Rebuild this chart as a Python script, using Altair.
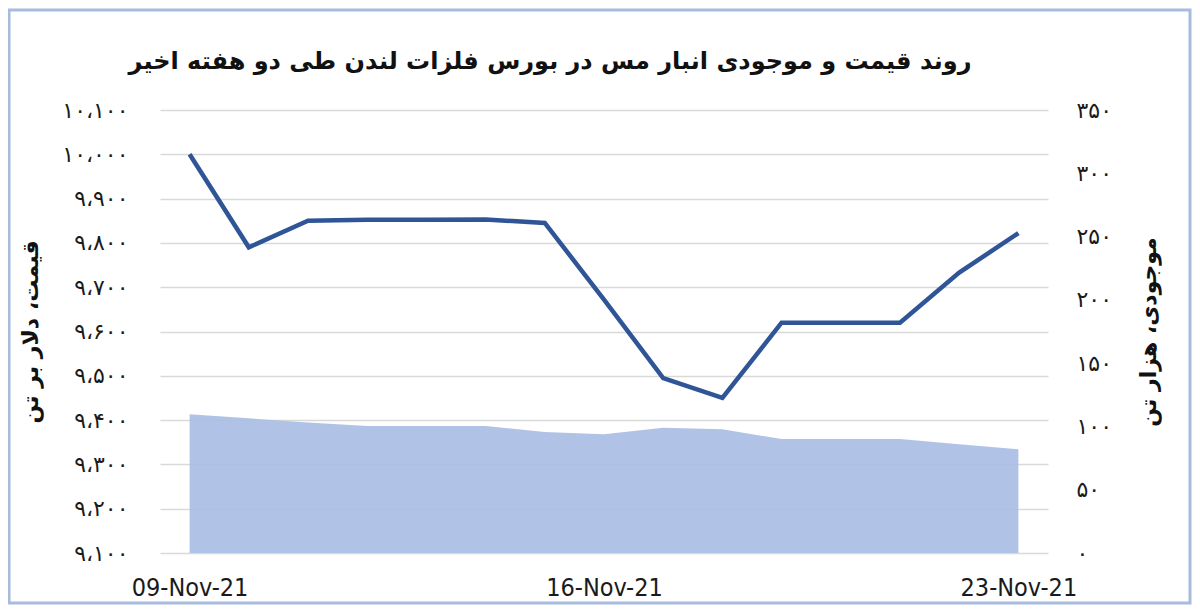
import json
import altair as alt
import pandas as pd

# ---- data ----
days = [9, 10, 11, 12, 13, 14, 15, 16, 17, 18, 19, 20, 21, 22, 23]
price = [10000, 9790, 9850, 9852, 9852, 9853, 9845, 9672, 9495, 9450, 9620, 9620, 9620, 9733, 9822]
stock = [109.6, 106.4, 103.2, 100.3, 100.3, 100.3, 95.5, 93.8, 99.0, 97.7, 90.0, 90.0, 90.0, 86.0, 82.0]

date_ticks = [9, 16, 23]
date_labels = ["09-Nov-21", "16-Nov-21", "23-Nov-21"]

price_ticks = [9100, 9200, 9300, 9400, 9500, 9600, 9700, 9800, 9900, 10000, 10100]
price_labels = ["۹،۱۰۰", "۹،۲۰۰", "۹،۳۰۰", "۹،۴۰۰", "۹،۵۰۰", "۹،۶۰۰",
                "۹،۷۰۰", "۹،۸۰۰", "۹،۹۰۰", "۱۰،۰۰۰", "۱۰،۱۰۰"]

stock_ticks = [0, 50, 100, 150, 200, 250, 300, 350]
stock_labels = ["۰", "۵۰", "۱۰۰", "۱۵۰", "۲۰۰", "۲۵۰", "۳۰۰", "۳۵۰"]

title_text = "روند قیمت و موجودی انبار مس در بورس فلزات لندن طی دو هفته اخیر"
left_title = "قیمت، دلار بر تن"
right_title = "موجودی، هزار تن"

df = pd.DataFrame({"day": days, "price": price, "stock": stock})


def lookup_expr(ticks, labels):
    return f"{json.dumps(labels, ensure_ascii=False)}[indexof({json.dumps(ticks)}, datum.value)]"


W, H = 888, 443
PAD = {"left": 152, "top": 102, "right": 144, "bottom": 52}

FA_FONT = "DejaVu Sans"
LAT_FONT = "Liberation Sans Narrow, DejaVu Sans Condensed, sans-serif"

x_enc = alt.X(
    "day:Q",
    scale=alt.Scale(domain=[8.5, 23.5], nice=False, zero=False),
    axis=alt.Axis(
        values=date_ticks,
        labelExpr=lookup_expr(date_ticks, date_labels),
        grid=False, domain=False, ticks=False,
        labelPadding=22, labelFontSize=25, labelFont=LAT_FONT,
        labelColor="#1a1a1a", title=None,
    ),
)

border = alt.Chart(pd.DataFrame({"k": [0]})).mark_rect(
    fill="transparent", stroke="#a7bbdc", strokeWidth=3
).encode(
    x=alt.value(-151), x2=alt.value(W + 142),
    y=alt.value(-100), y2=alt.value(H + 50),
)

area = alt.Chart(df).mark_area(color="#a9bee4", opacity=0.92).encode(
    x=x_enc,
    y=alt.Y(
        "stock:Q",
        scale=alt.Scale(domain=[0, 350], nice=False),
        axis=alt.Axis(
            orient="right", values=stock_ticks,
            labelExpr=lookup_expr(stock_ticks, stock_labels),
            grid=False, domain=False, ticks=False,
            labelPadding=28, labelFontSize=22, labelFont=FA_FONT,
            labelColor="#1a1a1a",
            title=right_title, titleFont=FA_FONT, titleFontSize=22,
            titleFontWeight="bold", titleColor="#111111",
            titleAngle=-90, titleX=100, titleY=H / 2,
            titleAlign="center", titleBaseline="middle",
        ),
    ),
)

line = alt.Chart(df).mark_line(color="#2f5597", strokeWidth=4.5).encode(
    x=x_enc,
    y=alt.Y(
        "price:Q",
        scale=alt.Scale(domain=[9100, 10100], nice=False, zero=False),
        axis=alt.Axis(
            orient="left", values=price_ticks,
            labelExpr=lookup_expr(price_ticks, price_labels),
            grid=True, gridColor="#d9d9d9", gridWidth=1.5,
            domain=False, ticks=False,
            labelPadding=32, labelFontSize=22, labelFont=FA_FONT,
            labelColor="#1a1a1a",
            title=left_title, titleFont=FA_FONT, titleFontSize=22,
            titleFontWeight="bold", titleColor="#111111",
            titleAngle=-90, titleX=-130, titleY=H / 2,
            titleAlign="center", titleBaseline="middle",
        ),
    ),
)

chart = alt.layer(border, area, line).resolve_scale(y="independent").properties(
    width=W, height=H,
    autosize=alt.AutoSizeParams(type="none"),
    padding=PAD,
    background="white",
    title=alt.TitleParams(
        text=title_text, font=FA_FONT, fontSize=24, fontWeight="bold",
        color="#111111", anchor="middle", dx=-54, offset=-65,
    ),
).configure_view(stroke=None)

chart.save("out.html", embed_options={"renderer": "svg", "actions": False})
